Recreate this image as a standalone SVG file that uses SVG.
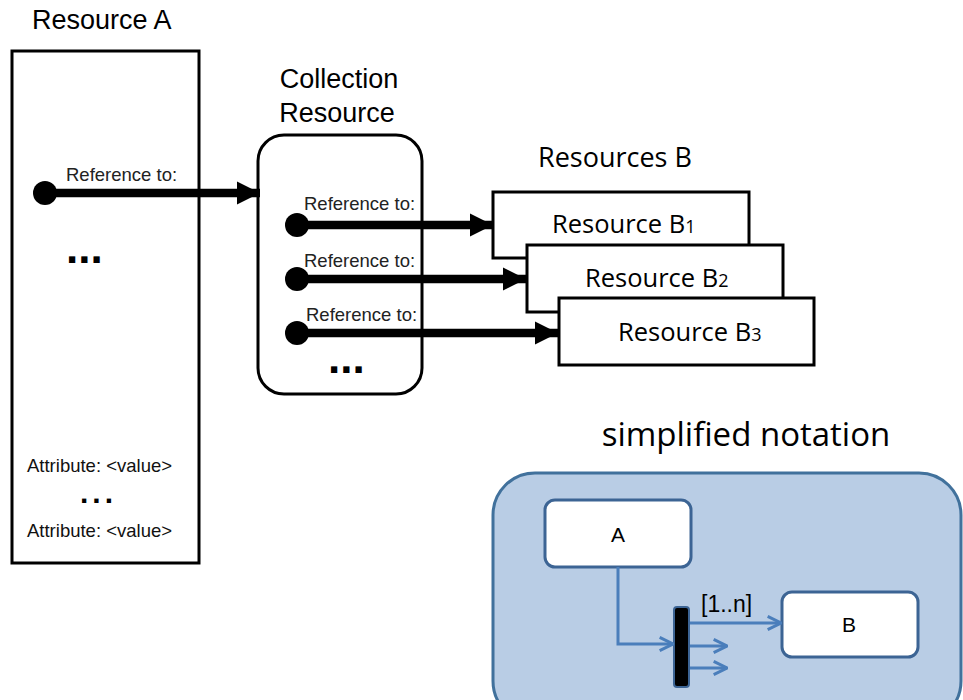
<svg xmlns="http://www.w3.org/2000/svg" width="963" height="700" viewBox="0 0 963 700">
<defs>
<style>
.t{font-family:"Liberation Sans",Arial,sans-serif;fill:#000}
.c{font-family:"Open Sans","Liberation Sans",sans-serif;fill:#000}
.box{fill:#fff;stroke:#000;stroke-width:3}
.ref{stroke:#000;stroke-width:8.5;fill:none}
.blue{stroke:#4A7EBB;stroke-width:3;fill:none}
.sbox{fill:#fff;stroke:#3C6494;stroke-width:3}
.lbl{font-size:18.5px;fill:#222}
.dots{font-size:44px;font-weight:bold}
.sdots{font-size:30px;font-weight:bold;letter-spacing:4px}
.attr{font-size:18.5px;fill:#111}
</style>
<marker id="ah" viewBox="0 0 10 10" refX="10" refY="5" markerUnits="userSpaceOnUse" markerWidth="23" markerHeight="24" orient="auto">
<path d="M0,0 L10,5 L0,10 Z" fill="#000"/>
</marker>
<marker id="chev" viewBox="0 0 12 12" refX="11" refY="6" markerUnits="userSpaceOnUse" markerWidth="16" markerHeight="16" orient="auto">
<path d="M1,1 L11,6 L1,11" fill="none" stroke="#4A7EBB" stroke-width="2.2"/>
</marker>
</defs>
<rect width="963" height="700" fill="#fff"/>

<g id="resourceA">
<text class="t" x="32" y="29" font-size="27">Resource A</text>
<rect class="box" x="12" y="51" width="187" height="512"/>
<text class="t dots" x="66" y="263">...</text>
<text class="t attr" x="27" y="472">Attribute: &lt;value&gt;</text>
<text class="t sdots" x="80" y="503">...</text>
<text class="t attr" x="27" y="537">Attribute: &lt;value&gt;</text>
</g>

<g id="collection">
<text class="t" x="339" y="88" font-size="27" text-anchor="middle">Collection</text>
<text class="t" x="337" y="122" font-size="27" text-anchor="middle">Resource</text>
<rect class="box" x="258" y="135" width="164" height="259" rx="26"/>
<text class="t dots" x="328" y="373">...</text>
</g>

<g id="resourcesB">
<text class="c" x="538" y="167" font-size="27">Resources B</text>
<g id="b1">
<rect class="box" x="493" y="192" width="256" height="66"/>
<text class="c" x="552" y="233" font-size="25.5">Resource B<tspan font-size="18">1</tspan></text>
</g>
<g id="b2">
<rect class="box" x="527" y="245" width="256" height="67"/>
<text class="c" x="585" y="287" font-size="25.5">Resource B<tspan font-size="18">2</tspan></text>
</g>
<g id="b3">
<rect class="box" x="559" y="298" width="255" height="67"/>
<text class="c" x="618" y="341" font-size="25.5">Resource B<tspan font-size="18">3</tspan></text>
</g>
</g>

<g id="connectors">
<circle cx="45" cy="193" r="12" fill="#000"/>
<line class="ref" x1="45" y1="193" x2="260" y2="193" marker-end="url(#ah)"/>
<text class="t lbl" x="66" y="181">Reference to:</text>

<circle cx="297" cy="225" r="12" fill="#000"/>
<line class="ref" x1="297" y1="225" x2="493" y2="225" marker-end="url(#ah)"/>
<text class="t lbl" x="304" y="210">Reference to:</text>

<circle cx="297" cy="279" r="12" fill="#000"/>
<line class="ref" x1="297" y1="279" x2="526" y2="279" marker-end="url(#ah)"/>
<text class="t lbl" x="304" y="267">Reference to:</text>

<circle cx="297" cy="333" r="12" fill="#000"/>
<line class="ref" x1="297" y1="333" x2="558" y2="333" marker-end="url(#ah)"/>
<text class="t lbl" x="306" y="321">Reference to:</text>
</g>

<g id="simplified">
<text class="c" x="746" y="446" font-size="33" text-anchor="middle">simplified notation</text>
<rect x="493" y="473" width="468" height="250" rx="42" fill="#B9CDE5" stroke="#41719C" stroke-width="3"/>
<g id="nodeA">
<rect class="sbox" x="545" y="500" width="146" height="67" rx="10"/>
<text class="t" x="618" y="542" font-size="21" text-anchor="middle">A</text>
</g>
<g id="nodeB">
<rect class="sbox" x="782" y="592" width="136" height="65" rx="10"/>
<text class="t" x="849" y="632" font-size="21" text-anchor="middle">B</text>
</g>
<g id="bar">
<rect x="674" y="607" width="15" height="80" rx="3" fill="#000" stroke="#3C6494" stroke-width="2"/>
</g>
<g id="simple-connectors">
<polyline class="blue" points="618,567 618,644 673,644" marker-end="url(#chev)"/>
<line class="blue" x1="690" y1="623" x2="781" y2="623" marker-end="url(#chev)"/>
<line class="blue" x1="690" y1="646" x2="727" y2="646" marker-end="url(#chev)"/>
<line class="blue" x1="690" y1="668" x2="727" y2="668" marker-end="url(#chev)"/>
<text class="t" x="701" y="612" font-size="23" fill="#111">[1..n]</text>
</g>
</g>
</svg>
